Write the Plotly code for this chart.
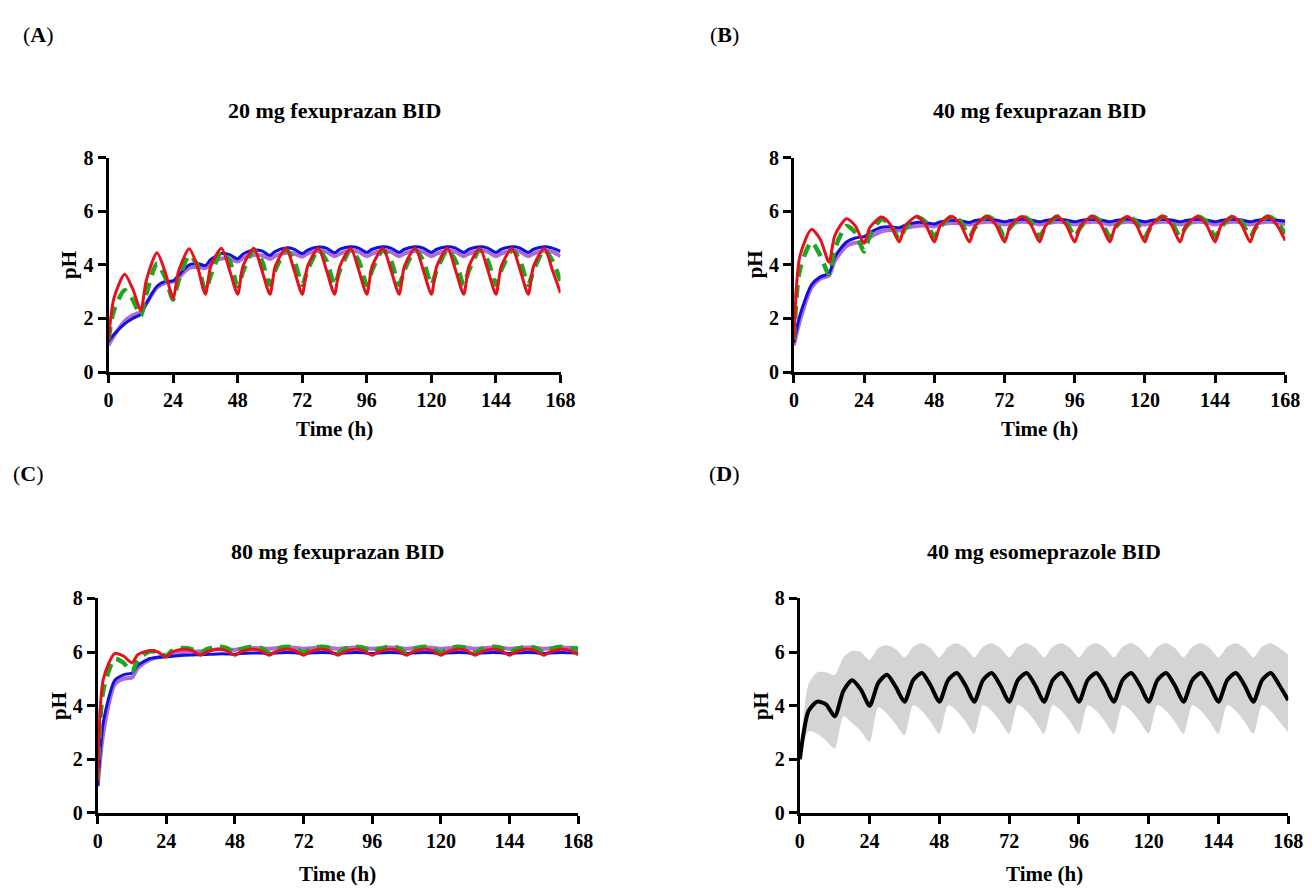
import plotly.graph_objects as go

# ---------------- data ----------------
t_grid = [0, 2, 6, 9, 12, 14, 18, 21, 24, 26, 30, 33, 36, 38, 42, 45, 48, 50, 54, 57,
          60, 62, 66, 69, 72, 74, 78, 81, 84, 86, 90, 93, 96, 98, 102, 105, 108, 110,
          114, 117, 120, 122, 126, 129, 132, 134, 138, 141, 144, 146, 150, 153, 156,
          158, 162, 165, 168]

a_red = [1.2, 2.75, 3.65, 3.1, 2.3, 3.4, 4.45, 3.75, 2.75, 3.75, 4.6, 3.95, 2.9, 3.95, 4.62, 3.8,
         2.9, 3.95, 4.62, 3.8, 2.9, 3.95, 4.62, 3.8, 2.9, 3.95, 4.62, 3.8, 2.9, 3.95, 4.62, 3.8,
         2.9, 3.95, 4.62, 3.8, 2.9, 3.95, 4.62, 3.8, 2.9, 3.95, 4.62, 3.8, 2.9, 3.95, 4.62, 3.8,
         2.9, 3.95, 4.62, 3.8, 2.9, 3.95, 4.62, 3.8, 2.95]
a_green = [1.2, 2.3, 3.05, 2.7, 2.1, 2.9, 4.05, 3.55, 2.7, 3.4, 4.35, 4.0, 3.05, 3.6, 4.5, 4.15,
           3.2, 3.75, 4.55, 4.15, 3.25, 3.8, 4.55, 4.15, 3.25, 3.8, 4.55, 4.15, 3.25, 3.8, 4.55, 4.15,
           3.25, 3.8, 4.55, 4.15, 3.25, 3.8, 4.55, 4.15, 3.25, 3.8, 4.55, 4.15, 3.25, 3.8, 4.55, 4.15,
           3.25, 3.8, 4.55, 4.15, 3.25, 3.8, 4.55, 4.15, 3.4]
a_blue = [1.15, 1.4, 1.8, 2.0, 2.15, 2.55, 3.2, 3.38, 3.4, 3.6, 4.0, 4.05, 3.97, 4.2, 4.42, 4.38,
          4.22, 4.4, 4.55, 4.52, 4.35, 4.5, 4.63, 4.58, 4.42, 4.55, 4.66, 4.62, 4.45, 4.58, 4.67, 4.62,
          4.46, 4.58, 4.67, 4.62, 4.46, 4.58, 4.67, 4.62, 4.46, 4.58, 4.67, 4.62, 4.46, 4.58, 4.67, 4.62,
          4.46, 4.58, 4.67, 4.62, 4.46, 4.58, 4.67, 4.62, 4.5]
a_purple = [1.0, 1.35, 1.9, 2.12, 2.25, 2.55, 3.15, 3.33, 3.38, 3.52, 3.88, 3.92, 3.87, 4.05, 4.23, 4.22,
            4.12, 4.25, 4.36, 4.35, 4.22, 4.33, 4.45, 4.42, 4.3, 4.42, 4.52, 4.48, 4.32, 4.42, 4.52, 4.48,
            4.32, 4.42, 4.52, 4.48, 4.32, 4.42, 4.52, 4.48, 4.32, 4.42, 4.52, 4.48, 4.32, 4.42, 4.52, 4.48,
            4.32, 4.42, 4.52, 4.48, 4.32, 4.42, 4.52, 4.48, 4.32]

b_red = [1.2, 4.3, 5.32, 4.95, 4.1, 5.1, 5.72, 5.45, 4.8, 5.4, 5.78, 5.5, 4.85, 5.45, 5.8, 5.5,
         4.85, 5.45, 5.8, 5.5, 4.85, 5.45, 5.8, 5.5, 4.85, 5.45, 5.8, 5.5, 4.85, 5.45, 5.8, 5.5,
         4.85, 5.45, 5.8, 5.5, 4.85, 5.45, 5.8, 5.5, 4.85, 5.45, 5.8, 5.5, 4.85, 5.45, 5.8, 5.5,
         4.85, 5.45, 5.8, 5.5, 4.85, 5.45, 5.8, 5.5, 4.9]
b_green = [1.2, 3.8, 4.85, 4.35, 3.65, 4.6, 5.45, 5.2, 4.5, 5.1, 5.7, 5.5, 4.95, 5.35, 5.78, 5.6,
           5.05, 5.4, 5.8, 5.62, 5.05, 5.4, 5.8, 5.62, 5.05, 5.4, 5.8, 5.62, 5.05, 5.4, 5.8, 5.62,
           5.05, 5.4, 5.8, 5.62, 5.05, 5.4, 5.8, 5.62, 5.05, 5.4, 5.8, 5.62, 5.05, 5.4, 5.8, 5.62,
           5.05, 5.4, 5.8, 5.62, 5.05, 5.4, 5.8, 5.62, 5.15]
b_blue = [1.1, 2.1, 3.25, 3.55, 3.68, 4.3, 4.85, 5.0, 5.05, 5.2, 5.4, 5.42, 5.38, 5.48, 5.58, 5.57,
          5.52, 5.6, 5.66, 5.64, 5.58, 5.65, 5.7, 5.67, 5.6, 5.65, 5.7, 5.67, 5.6, 5.65, 5.7, 5.67,
          5.6, 5.65, 5.7, 5.67, 5.6, 5.65, 5.7, 5.67, 5.6, 5.65, 5.7, 5.67, 5.6, 5.65, 5.7, 5.67,
          5.6, 5.65, 5.7, 5.67, 5.6, 5.65, 5.7, 5.67, 5.62]
b_purple = [1.0, 1.9, 3.15, 3.48, 3.6, 4.15, 4.7, 4.82, 4.85, 5.02, 5.25, 5.3, 5.28, 5.37, 5.45, 5.46,
            5.43, 5.5, 5.56, 5.55, 5.5, 5.54, 5.6, 5.58, 5.5, 5.54, 5.6, 5.58, 5.5, 5.54, 5.6, 5.58,
            5.5, 5.54, 5.6, 5.58, 5.5, 5.54, 5.6, 5.58, 5.5, 5.54, 5.6, 5.58, 5.5, 5.54, 5.6, 5.58,
            5.5, 5.54, 5.6, 5.58, 5.5, 5.54, 5.6, 5.58, 5.52]

c_red = [1.2, 5.0, 5.95, 5.85, 5.6, 5.9, 6.05, 6.0, 5.82, 6.0, 6.1, 6.05, 5.88, 6.0, 6.1, 6.05,
         5.88, 6.0, 6.1, 6.05, 5.88, 6.0, 6.1, 6.05, 5.88, 6.0, 6.1, 6.05, 5.88, 6.0, 6.1, 6.05,
         5.88, 6.0, 6.1, 6.05, 5.88, 6.0, 6.1, 6.05, 5.88, 6.0, 6.1, 6.05, 5.88, 6.0, 6.1, 6.05,
         5.88, 6.0, 6.1, 6.05, 5.88, 6.0, 6.1, 6.05, 5.9]
c_green = [1.2, 4.6, 5.75, 5.6, 5.25, 5.7, 6.02, 6.0, 5.85, 6.05, 6.15, 6.1, 5.95, 6.1, 6.2, 6.15,
           5.97, 6.1, 6.2, 6.15, 5.97, 6.1, 6.2, 6.15, 5.97, 6.1, 6.2, 6.15, 5.97, 6.1, 6.2, 6.15,
           5.97, 6.1, 6.2, 6.15, 5.97, 6.1, 6.2, 6.15, 5.97, 6.1, 6.2, 6.15, 5.97, 6.1, 6.2, 6.15,
           5.97, 6.1, 6.2, 6.15, 5.97, 6.1, 6.2, 6.15, 6.1]
c_blue = [1.0, 3.4, 4.95, 5.15, 5.22, 5.5, 5.75, 5.8, 5.82, 5.84, 5.88, 5.89, 5.9, 5.91, 5.93, 5.93,
          5.92, 5.94, 5.96, 5.96, 5.94, 5.96, 5.98, 5.97, 5.94, 5.96, 5.98, 5.97, 5.94, 5.96, 5.98, 5.97,
          5.94, 5.96, 5.98, 5.97, 5.94, 5.96, 5.98, 5.97, 5.94, 5.96, 5.98, 5.97, 5.94, 5.96, 5.98, 5.97,
          5.94, 5.96, 5.98, 5.97, 5.94, 5.96, 5.98, 5.97, 5.96]
c_purple = [1.0, 3.0, 4.8, 5.0, 5.05, 5.4, 5.7, 5.8, 5.85, 5.9, 6.0, 6.02, 6.02, 6.05, 6.1, 6.1,
            6.08, 6.12, 6.15, 6.14, 6.12, 6.14, 6.17, 6.16, 6.12, 6.14, 6.17, 6.16, 6.12, 6.14, 6.17, 6.16,
            6.12, 6.14, 6.17, 6.16, 6.12, 6.14, 6.17, 6.16, 6.12, 6.14, 6.17, 6.16, 6.12, 6.14, 6.17, 6.16,
            6.12, 6.14, 6.17, 6.16, 6.12, 6.14, 6.17, 6.16, 6.15]

t_d = [0, 3, 6, 9, 12, 15, 18, 21, 24, 27, 30, 33, 36, 39, 42, 45, 48, 51, 54, 57, 60, 63, 66, 69,
       72, 75, 78, 81, 84, 87, 90, 93, 96, 99, 102, 105, 108, 111, 114, 117, 120, 123, 126, 129,
       132, 135, 138, 141, 144, 147, 150, 153, 156, 159, 162, 165, 168]
d_mean = [2.0, 3.8, 4.15, 4.05, 3.6, 4.55, 4.95, 4.6, 4.0, 4.85, 5.15, 4.7, 4.15, 4.95, 5.22, 4.75,
          4.15, 4.95, 5.22, 4.75, 4.15, 4.95, 5.22, 4.75, 4.15, 4.95, 5.22, 4.75, 4.15, 4.95, 5.22, 4.75,
          4.15, 4.95, 5.22, 4.75, 4.15, 4.95, 5.22, 4.75, 4.15, 4.95, 5.22, 4.75, 4.15, 4.95, 5.22, 4.75,
          4.15, 4.95, 5.22, 4.75, 4.15, 4.95, 5.22, 4.75, 4.2]
d_upper = [2.0, 4.8, 5.25, 5.25, 5.15, 5.8, 6.05, 6.0, 5.7, 6.15, 6.25, 6.1, 5.8, 6.2, 6.33, 6.15,
           5.8, 6.2, 6.33, 6.15, 5.8, 6.2, 6.33, 6.15, 5.8, 6.2, 6.33, 6.15, 5.8, 6.2, 6.33, 6.15,
           5.8, 6.2, 6.33, 6.15, 5.8, 6.2, 6.33, 6.15, 5.8, 6.2, 6.33, 6.15, 5.8, 6.2, 6.33, 6.15,
           5.8, 6.2, 6.33, 6.15, 5.8, 6.2, 6.33, 6.15, 5.9]
d_lower = [2.0, 3.05, 2.95, 2.7, 2.4, 3.6, 3.35, 3.05, 2.65, 3.95, 3.7, 3.3, 2.9, 4.02, 3.8, 3.4,
           2.95, 4.02, 3.8, 3.4, 2.95, 4.02, 3.8, 3.4, 2.95, 4.02, 3.8, 3.4, 2.95, 4.02, 3.8, 3.4,
           2.95, 4.02, 3.8, 3.4, 2.95, 4.02, 3.8, 3.4, 2.95, 4.02, 3.8, 3.4, 2.95, 4.02, 3.8, 3.4,
           2.95, 4.02, 3.8, 3.4, 2.95, 4.02, 3.8, 3.4, 3.0]

x_ticks = [0, 24, 48, 72, 96, 120, 144, 168]
y_ticks = [0, 2, 4, 6, 8]
titles = ["20 mg fexuprazan BID", "40 mg fexuprazan BID", "80 mg fexuprazan BID", "40 mg esomeprazole BID"]
panel_labels = ["A", "B", "C", "D"]

# ---------------- layout helpers ----------------
W, H = 1312, 893
FONT = "Liberation Serif"
OFF = 4

def px(x):
    return (x - OFF) / W

def py(y):
    return 1 - (y - OFF) / H

# panel boxes in pixels: (x_left, x_right, y_top(8), y_bottom(0))
boxes = [(101, 560, 146, 366), (797, 1296, 146, 366), (90, 578, 598, 818), (803, 1299, 598, 818)]
time_offsets = [58, 58, 63, 63]

C_RED = "#e8101a"
C_GREEN = "#1fa51f"
C_BLUE = "#1010e0"
C_PURPLE = "#b06ad8"
SM = 0.7

fig = go.Figure()

def add_lines(idx, t, purple, blue, green, red):
    xa = "x" if idx == 0 else f"x{idx+1}"
    ya = "y" if idx == 0 else f"y{idx+1}"
    common = dict(mode="lines", xaxis=xa, yaxis=ya, showlegend=False, line_shape="spline")
    fig.add_trace(go.Scatter(x=t, y=purple, line=dict(color=C_PURPLE, width=4, smoothing=SM), **common))
    fig.add_trace(go.Scatter(x=t, y=blue, line=dict(color=C_BLUE, width=3, smoothing=SM), **common))
    fig.add_trace(go.Scatter(x=t, y=green, line=dict(color=C_GREEN, width=4.5, dash="13px,8px", smoothing=SM), **common))
    fig.add_trace(go.Scatter(x=t, y=red, line=dict(color=C_RED, width=3, smoothing=SM), **common))

add_lines(0, t_grid, a_purple, a_blue, a_green, a_red)
add_lines(1, t_grid, b_purple, b_blue, b_green, b_red)
add_lines(2, t_grid, c_purple, c_blue, c_green, c_red)

# panel D
fig.add_trace(go.Scatter(x=t_d, y=d_lower, mode="lines", line=dict(width=0, shape="spline", smoothing=SM),
                         xaxis="x4", yaxis="y4", showlegend=False, hoverinfo="skip"))
fig.add_trace(go.Scatter(x=t_d, y=d_upper, mode="lines", line=dict(width=0, shape="spline", smoothing=SM),
                         fill="tonexty", fillcolor="#d4d4d4",
                         xaxis="x4", yaxis="y4", showlegend=False, hoverinfo="skip"))
fig.add_trace(go.Scatter(x=t_d, y=d_mean, mode="lines", line=dict(color="black", width=4, shape="spline", smoothing=SM),
                         xaxis="x4", yaxis="y4", showlegend=False))

layout = dict(width=W, height=H, margin=dict(l=0, r=0, t=0, b=0),
              paper_bgcolor="white", plot_bgcolor="white", showlegend=False)

tickfont = dict(family=FONT, size=20, color="black", weight="bold")
annotations = []
for i, (xl, xr, yt, yb) in enumerate(boxes):
    sx = "" if i == 0 else str(i + 1)
    layout[f"xaxis{sx}"] = dict(domain=[px(xl), px(xr)], range=[0, 168], anchor=f"y{sx}",
                                tickvals=x_ticks, ticks="outside", ticklen=8, tickwidth=3, tickcolor="black",
                                showline=True, linewidth=3, linecolor="black", showgrid=False, zeroline=False,
                                tickfont=tickfont)
    layout[f"yaxis{sx}"] = dict(domain=[py(yb), py(yt)], range=[0, 8], anchor=f"x{sx}",
                                tickvals=y_ticks, ticks="outside", ticklen=8, tickwidth=3, tickcolor="black",
                                showline=True, linewidth=3, linecolor="black", showgrid=False, zeroline=False,
                                tickfont=tickfont)
    # title
    annotations.append(dict(x=px((xl + xr) / 2), y=py(yt - 48), xref="paper", yref="paper",
                            text=f"<b>{titles[i]}</b>", showarrow=False,
                            font=dict(family=FONT, size=22, color="black"),
                            xanchor="center", yanchor="middle"))
    # x axis title
    annotations.append(dict(x=px((xl + xr) / 2), y=py(yb + time_offsets[i]), xref="paper", yref="paper",
                            text="<b>Time (h)</b>", showarrow=False,
                            font=dict(family=FONT, size=21, color="black"),
                            xanchor="center", yanchor="middle"))
    # y axis title
    annotations.append(dict(x=px(xl - 40), y=py((yt + yb) / 2), xref="paper", yref="paper",
                            text="<b>pH</b>", showarrow=False, textangle=-90,
                            font=dict(family=FONT, size=21, color="black"),
                            xanchor="center", yanchor="middle"))

label_pos = [(30, 20), (727, 20), (20, 470), (727, 470)]
for lab, (lx, ly) in zip(panel_labels, label_pos):
    annotations.append(dict(x=px(lx), y=py(ly), xref="paper", yref="paper",
                            text=f"(<b>{lab}</b>)", showarrow=False,
                            font=dict(family=FONT, size=22, color="black"),
                            xanchor="center", yanchor="middle"))

layout["annotations"] = annotations
fig.update_layout(**layout)
fig.write_html("out.html")
